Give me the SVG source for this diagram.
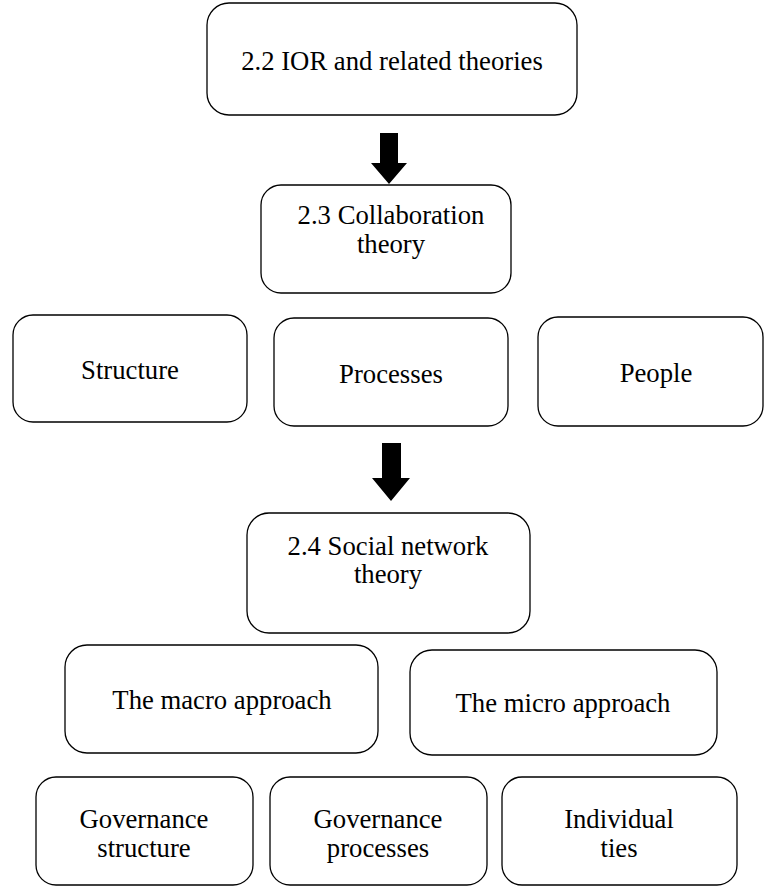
<svg xmlns="http://www.w3.org/2000/svg" width="765" height="886" viewBox="0 0 765 886" font-family="Liberation Serif, serif">
<style>
.box{fill:#fff;stroke:#000;stroke-width:1.3}
.t{font-size:26.7px;fill:#000;text-anchor:middle}
.arrow{fill:#000;stroke:none}
</style>
<rect width="765" height="886" fill="#fff"/>
<g id="connectors">
<path class="arrow" d="M380,133 H398 V163 H407 L389,184 L371,163 H380 Z"/>
<path class="arrow" d="M382,443 H401 V478 H410 L391,501 L372,478 H382 Z"/>
</g>
<g id="ior">
<rect class="box" x="207" y="3" width="370" height="112" rx="22"/>
<text class="t" x="392" y="70">2.2 IOR and related theories</text>
</g>
<g id="collab">
<rect class="box" x="261" y="185" width="250" height="108" rx="20"/>
<text class="t" x="391" y="224">2.3 Collaboration</text>
<text class="t" x="391" y="253">theory</text>
</g>
<g id="structure">
<rect class="box" x="13" y="315" width="234" height="107" rx="20"/>
<text class="t" x="130" y="379">Structure</text>
</g>
<g id="processes">
<rect class="box" x="274" y="318" width="234" height="108" rx="20"/>
<text class="t" x="391" y="383">Processes</text>
</g>
<g id="people">
<rect class="box" x="538" y="317" width="225" height="109" rx="20"/>
<text class="t" x="656" y="382">People</text>
</g>
<g id="social">
<rect class="box" x="247" y="513" width="283" height="120" rx="22"/>
<text class="t" x="388" y="555">2.4 Social network</text>
<text class="t" x="388" y="583">theory</text>
</g>
<g id="macro">
<rect class="box" x="65" y="645" width="313" height="108" rx="22"/>
<text class="t" x="222" y="709">The macro approach</text>
</g>
<g id="micro">
<rect class="box" x="410" y="650" width="307" height="105" rx="22"/>
<text class="t" x="563" y="712">The micro approach</text>
</g>
<g id="govstruct">
<rect class="box" x="36" y="777" width="217" height="108" rx="20"/>
<text class="t" x="144" y="828">Governance</text>
<text class="t" x="144" y="857">structure</text>
</g>
<g id="govproc">
<rect class="box" x="270" y="777" width="217" height="108" rx="20"/>
<text class="t" x="378" y="828">Governance</text>
<text class="t" x="378" y="857">processes</text>
</g>
<g id="indiv">
<rect class="box" x="502" y="777" width="235" height="108" rx="20"/>
<text class="t" x="619" y="828">Individual</text>
<text class="t" x="619" y="857">ties</text>
</g>
</svg>
